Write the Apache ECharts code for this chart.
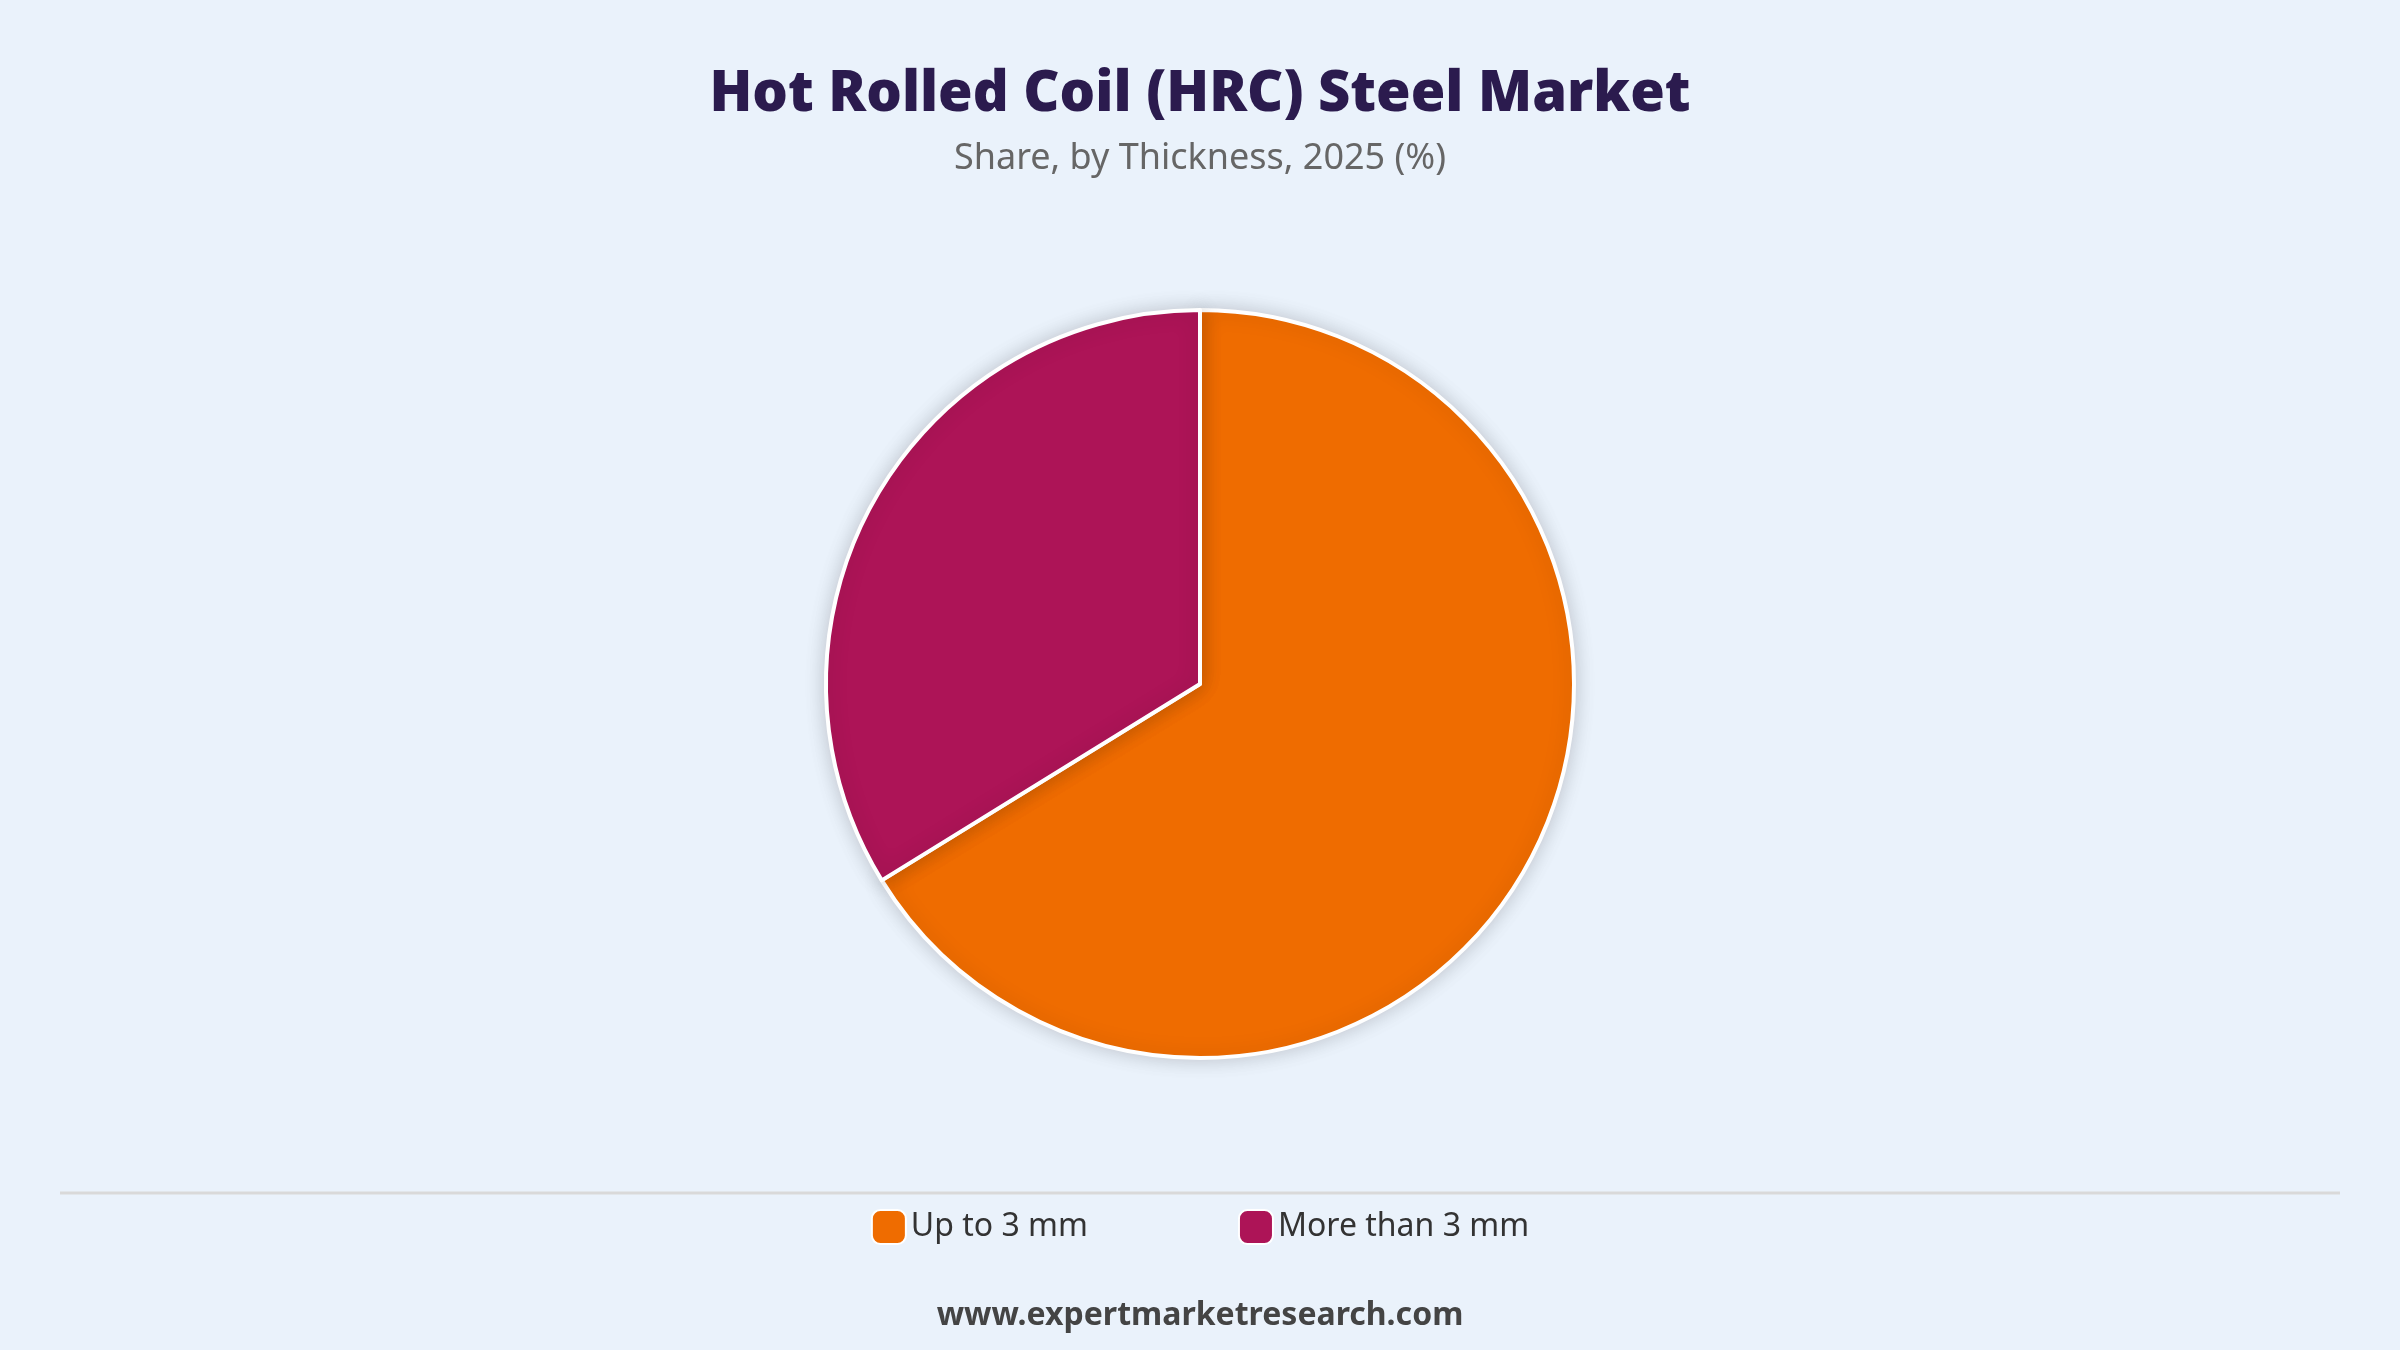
<!DOCTYPE html>
<html><head><meta charset="utf-8">
<script src="https://cdn.jsdelivr.net/npm/echarts@6/dist/echarts.min.js"></script>
<style>html,body{margin:0;padding:0;background:#EAF2FB}#c{width:2400px;height:1350px}</style>
</head><body><div id="c"></div>
<script>
const categories = ["Up to 3 mm", "More than 3 mm"];
const values = [66.2, 33.8];
const colors = ["#EF6C00", "#AD1457"];
const chart = echarts.init(document.getElementById('c'));
chart.setOption({
  backgroundColor: '#EAF2FB',
  title: {
    text: 'Hot Rolled Coil (HRC) Steel Market',
    subtext: 'Share, by Thickness, 2025 (%)',
    left: 'center', top: 62, itemGap: 18,
    textStyle: {fontFamily: 'Noto Sans', fontWeight: 900, fontSize: 56, color: '#2B1B4E'},
    subtextStyle: {fontFamily: 'Noto Sans', fontSize: 36, color: '#666666'}
  },
  legend: {
    bottom: 100, left: 'center', itemWidth: 34, itemHeight: 34, itemGap: 150,
    icon: 'roundRect',
    textStyle: {fontFamily: 'Noto Sans', fontSize: 32, color: '#333333'},
    data: categories
  },
  graphic: [
    {type: 'line', shape: {x1: 60, y1: 1193, x2: 2340, y2: 1193}, style: {stroke: '#D9D9D9', lineWidth: 3}},
    {type: 'text', left: 'center', top: 1300, style: {text: 'www.expertmarketresearch.com', fontFamily: 'Noto Sans', fontWeight: 'bold', fontSize: 32, fill: '#444444'}}
  ],
  series: [{
    type: 'pie', center: [1200, 684], radius: 374, startAngle: 90, clockwise: true,
    label: {show: false}, labelLine: {show: false},
    itemStyle: {borderColor: '#ffffff', borderWidth: 4, shadowBlur: 20, shadowColor: 'rgba(0,0,0,0.18)'},
    data: categories.map((n, i) => ({name: n, value: values[i], itemStyle: {color: colors[i]}}))
  }]
});
</script></body></html>
